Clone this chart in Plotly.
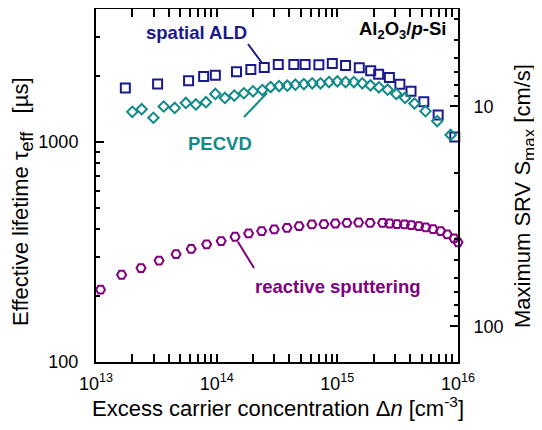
import math
import plotly.graph_objects as go

# ---------------- data ----------------
ald_n = [1.75e13, 3.24e13, 5.85e13, 7.80e13, 9.75e13, 1.46e14, 1.92e14, 2.48e14,
         3.24e14, 4.36e14, 5.41e14, 7.03e14, 9.08e14, 1.17e15, 1.52e15, 1.89e15,
         2.20e15, 2.70e15, 3.30e15, 4.08e15, 5.21e15, 6.85e15, 9.40e15]
ald_tau = [1756, 1830, 1897, 1982, 2010, 2081, 2131, 2177, 2246, 2246, 2246, 2240,
           2270, 2222, 2169, 2102, 2031, 1963, 1825, 1698, 1520, 1324, 1053]

pecvd_n = [2.00e13, 2.39e13, 2.99e13, 3.64e13, 4.49e13, 5.55e13, 6.72e13, 8.15e13,
           9.75e13, 1.17e14, 1.40e14, 1.68e14, 2.00e14, 2.39e14, 2.80e14, 3.29e14,
           3.85e14, 4.49e14, 5.28e14, 6.19e14, 7.26e14, 8.53e14, 1.00e15, 1.17e15,
           1.37e15, 1.61e15, 1.88e15, 2.21e15, 2.61e15, 3.08e15, 3.64e15, 4.36e15,
           5.38e15, 6.72e15, 8.69e15]
pecvd_tau = [1369, 1408, 1287, 1448, 1427, 1503, 1479, 1514, 1651, 1583, 1623, 1663,
             1697, 1720, 1775, 1793, 1800, 1820, 1830, 1845, 1845, 1869, 1883, 1869,
             1869, 1845, 1806, 1769, 1727, 1651, 1583, 1494, 1379, 1243, 1075]

sput_n = [1.09e13, 1.63e13, 2.36e13, 3.33e13, 4.61e13, 6.15e13, 8.26e13, 1.09e14,
          1.42e14, 1.84e14, 2.36e14, 3.00e14, 3.83e14, 4.82e14, 6.15e14, 7.74e14,
          9.62e14, 1.20e15, 1.50e15, 1.87e15, 2.37e15, 2.71e15, 3.12e15, 3.60e15,
          4.11e15, 4.73e15, 5.41e15, 6.22e15, 7.18e15, 8.15e15, 9.27e15, 1.00e16]
sput_tau = [213.2, 249.1, 267.1, 288.9, 308.8, 326.2, 342.5, 354.4, 370.6, 383.9,
            393.2, 400.2, 406.9, 414.1, 421.5, 422.8, 425.9, 428.5, 430.3, 428.5,
            428.5, 425.9, 422.8, 421.5, 418.4, 414.1, 408.6, 401.4, 393.2, 379.9,
            364.5, 349.7]

x_major = [1e13, 1e14, 1e15, 1e16]
x_major_text = ["10<sup>13</sup>", "10<sup>14</sup>", "10<sup>15</sup>", "10<sup>16</sup>"]
x_minor = [m * d for d in (1e13, 1e14, 1e15) for m in range(2, 10)]
y_major = [100, 1000]
y_major_text = ["100", "1000"]
y_minor = [200, 300, 400, 500, 600, 700, 800, 900, 2000, 3000, 4000]
s_major = [10, 100]
s_major_text = ["10", "100"]
s_minor = [4, 5, 6, 7, 8, 9, 20, 30, 40, 50, 60, 70, 80, 90]

# S_max * tau_eff constant linking the two vertical axes (cm/s * us)
S_TAU = 14500.0
TAU_RANGE = [100, 4015]

NAVY = "#1a1a8c"
TEAL = "#128a8a"
PURPLE = "#800080"
FONT = "Liberation Sans, Arial, sans-serif"

# ---------------- layout geometry (page pixels) ----------------
PAGE_W, PAGE_H = 542, 430
OFF = 8                      # default body margin of the html page
X0, X1, Y0, Y1 = 96, 458, 9, 362   # plot rectangle on the page
W, H = PAGE_W - OFF, PAGE_H - OFF
L, R, T, B = X0 - OFF, W - (X1 - OFF), Y0 - OFF, H - (Y1 - OFF)
PW, PH = X1 - X0, Y1 - Y0


def px(xp):
    return (xp - X0) / PW


def py(yp):
    return (Y1 - yp) / PH


fig = go.Figure()
fig.add_trace(go.Scatter(x=ald_n, y=ald_tau, mode="markers", cliponaxis=False,
                         marker=dict(symbol="square-open", size=9, color=NAVY,
                                     line=dict(width=2, color=NAVY))))
fig.add_trace(go.Scatter(x=pecvd_n, y=pecvd_tau, mode="markers", cliponaxis=False,
                         marker=dict(symbol="diamond-open", size=8, color=TEAL,
                                     line=dict(width=2, color=TEAL))))
fig.add_trace(go.Scatter(x=sput_n, y=sput_tau, mode="markers", cliponaxis=False,
                         marker=dict(symbol="hexagon2-open", size=9, color=PURPLE,
                                     line=dict(width=2, color=PURPLE))))
# empty trace so the secondary (SRV) axis is drawn
fig.add_trace(go.Scatter(x=[], y=[], yaxis="y2", showlegend=False))

tick_font = dict(family=FONT, size=18, color="black")

fig.update_layout(
    width=W, height=H, margin=dict(l=L, r=R, t=T, b=B, autoexpand=False),
    paper_bgcolor="white", plot_bgcolor="white", showlegend=False,
    font=dict(family=FONT, color="black"),
    xaxis=dict(type="log", range=[13, 16], showline=True, linecolor="black",
               linewidth=2, mirror="allticks", ticks="inside", ticklen=8,
               tickwidth=2, tickcolor="black", tickmode="array",
               tickvals=x_major, ticktext=x_major_text, tickfont=tick_font,
               showgrid=False, zeroline=False, ticklabelstandoff=4,
               minor=dict(tickmode="array", tickvals=x_minor, ticks="inside",
                          ticklen=4, tickwidth=1.5, tickcolor="black", showgrid=False)),
    yaxis=dict(type="log", range=[math.log10(TAU_RANGE[0]), math.log10(TAU_RANGE[1])],
               showline=True, linecolor="black", linewidth=2, mirror=False,
               ticks="inside", ticklen=8, tickwidth=2, tickcolor="black",
               tickmode="array", tickvals=y_major, ticktext=y_major_text,
               tickfont=tick_font, showgrid=False, zeroline=False,
               ticklabelstandoff=12,
               minor=dict(tickmode="array", tickvals=y_minor, ticks="inside",
                          ticklen=4, tickwidth=1.5, tickcolor="black", showgrid=False)),
    yaxis2=dict(type="log", overlaying="y", side="right", anchor="x",
                range=[math.log10(S_TAU / TAU_RANGE[0]), math.log10(S_TAU / TAU_RANGE[1])],
                showline=True, linecolor="black", linewidth=2,
                ticks="inside", ticklen=8, tickwidth=2, tickcolor="black",
                tickmode="array", tickvals=s_major, ticktext=s_major_text,
                tickfont=tick_font, showgrid=False, zeroline=False,
                ticklabelstandoff=10,
                minor=dict(tickmode="array", tickvals=s_minor, ticks="inside",
                           ticklen=4, tickwidth=1.5, tickcolor="black", showgrid=False)),
)

ann = []
ann.append(dict(text="Excess carrier concentration Δ<i>n</i> [cm<sup>-3</sup>]",
                x=px(278), y=py(407), font=dict(size=22)))
ann.append(dict(text="Effective lifetime τ<sub><span style='font-size:18px'>eff</span></sub>&nbsp;&nbsp; [µs]",
                textangle=-90, x=px(22), y=py(202), font=dict(size=22)))
ann.append(dict(text="Maximum SRV S<sub><span style='font-size:17px'>max</span></sub> [cm/s]",
                textangle=-90, x=px(524), y=py(196), font=dict(size=22)))
ann.append(dict(text="<b>spatial ALD</b>", x=px(196), y=py(33),
                font=dict(size=18.5, color=NAVY)))
ann.append(dict(text="<b>Al<sub>2</sub>O<sub>3</sub>/<i>p</i>-Si</b>", x=px(402), y=py(30),
                font=dict(size=18.5, color="black")))
ann.append(dict(text="<b>PECVD</b>", x=px(219.5), y=py(143),
                font=dict(size=18.5, color=TEAL)))
ann.append(dict(text="<b>reactive sputtering</b>", x=px(338), y=py(286),
                font=dict(size=18.5, color=PURPLE)))
for a in ann:
    a.update(xref="paper", yref="paper", showarrow=False,
             xanchor="center", yanchor="middle")
    a["font"].setdefault("color", "black")
    a["font"]["family"] = FONT
fig.update_layout(annotations=ann)

pointers = [((248, 44), (262, 63), NAVY),
            ((244, 117), (267, 93), TEAL),
            ((238, 242), (254, 268), PURPLE)]
for (x0, y0), (x1, y1), c in pointers:
    fig.add_shape(type="line", xref="paper", yref="paper",
                  x0=px(x0), y0=py(y0), x1=px(x1), y1=py(y1),
                  line=dict(color=c, width=2))

fig.write_html("out.html", config={"displayModeBar": False})
